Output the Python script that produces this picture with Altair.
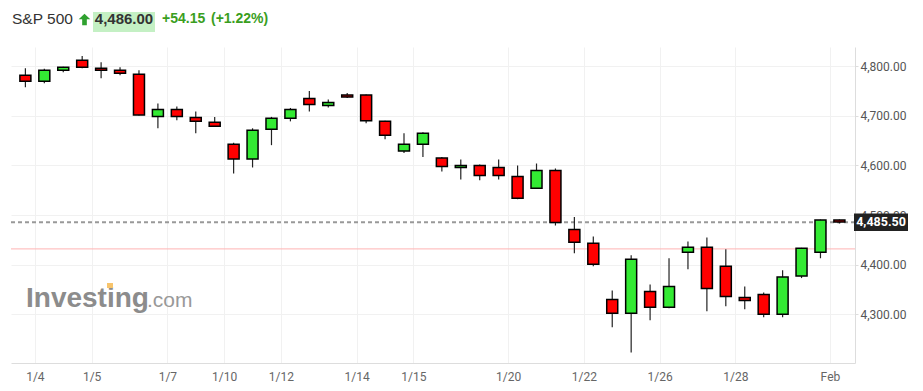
import altair as alt
import pandas as pd

# ---- data ----
opens  = [4782, 4770, 4792, 4812, 4796, 4792, 4784, 4699, 4713, 4697, 4687, 4643, 4613, 4673, 4695,
          4735, 4721, 4742, 4742, 4689, 4629, 4643, 4615, 4596, 4600, 4596, 4578, 4554, 4590, 4471,
          4443, 4330, 4302, 4346, 4314, 4425, 4435, 4397, 4334, 4340, 4300, 4377, 4425, 4490]
highs  = [4796, 4795, 4799, 4821, 4808, 4798, 4792, 4725, 4719, 4709, 4698, 4646, 4675, 4698, 4716,
          4750, 4733, 4746, 4743, 4690, 4665, 4667, 4617, 4612, 4602, 4612, 4600, 4604, 4594, 4496,
          4457, 4348, 4419, 4360, 4413, 4447, 4455, 4431, 4356, 4344, 4389, 4434, 4491, 4491]
lows   = [4758, 4766, 4788, 4796, 4776, 4782, 4701, 4675, 4691, 4665, 4678, 4584, 4596, 4641, 4689,
          4709, 4717, 4736, 4685, 4653, 4625, 4617, 4588, 4572, 4570, 4572, 4532, 4553, 4479, 4423,
          4397, 4274, 4223, 4288, 4312, 4391, 4306, 4316, 4310, 4294, 4294, 4373, 4413, 4483]
closes = [4770, 4792, 4798, 4798, 4792, 4786, 4702, 4713, 4699, 4689, 4679, 4613, 4671, 4695, 4713,
          4723, 4727, 4738, 4690, 4661, 4643, 4665, 4598, 4600, 4580, 4580, 4534, 4590, 4485, 4445,
          4401, 4302, 4411, 4314, 4356, 4435, 4352, 4336, 4328, 4300, 4375, 4433, 4490, 4486]

tick_positions = [1.5, 4.5, 8.5, 11.5, 14.5, 18.5, 21.5, 26.5, 30.5, 34.5, 38.5, 43.5]
tick_labels = ["1/4", "1/5", "1/7", "1/10", "1/12", "1/14", "1/15", "1/20", "1/22", "1/26", "1/28", "Feb"]
y_ticks = [4300, 4400, 4500, 4600, 4700, 4800]

last_price = 4485.50
prev_close = 4431.85

title_name = "S&P 500"
title_price = "4,486.00"
title_change = "+54.15"
title_pct = "(+1.22%)"
last_label = "4,485.50"

# ---- build table ----
n = len(opens)
df = pd.DataFrame({
    "idx": list(range(1, n + 1)),
    "open": opens, "high": highs, "low": lows, "close": closes,
})
df["dir"] = ["up" if c >= o else "down" for o, c in zip(opens, closes)]

label_expr = ""
for p, l in zip(tick_positions, tick_labels):
    label_expr += f"datum.value == {p} ? '{l}' : "
label_expr += "''"

x_scale = alt.Scale(domain=[0.504, 44.56], zero=False, nice=False)
y_scale = alt.Scale(domain=[4201.8, 4838.9], zero=False, nice=False)

W, H = 844, 316

base = alt.Chart(df)

wicks = base.mark_rule(color="#222222", strokeWidth=1.2).encode(
    x=alt.X("idx:Q", scale=x_scale,
            axis=alt.Axis(values=tick_positions, labelExpr=label_expr, title=None,
                          grid=True, gridColor="#f1f1f1", tickSize=0, labelPadding=8,
                          domainColor="#dddddd", labelColor="#666666", labelFont="Roboto",
                          labelFontSize=12)),
    y=alt.Y("low:Q", scale=y_scale,
            axis=alt.Axis(orient="right", values=y_ticks, format=",.2f", title=None,
                          grid=True, gridColor="#f1f1f1", tickSize=3, tickColor="#dddddd",
                          labelPadding=2, domainColor="#dddddd", labelColor="#555555",
                          labelFont="Roboto", labelFontSize=12)),
    y2="high:Q",
)

bodies = base.mark_bar(size=11, stroke="#000000", strokeWidth=1.5).encode(
    x=alt.X("idx:Q", scale=x_scale),
    y=alt.Y("open:Q", scale=y_scale),
    y2="close:Q",
    color=alt.Color("dir:N", scale=alt.Scale(domain=["up", "down"], range=["#33ea33", "#ff0000"]),
                    legend=None),
)

lines_df = pd.DataFrame({"v": [last_price]})
dashed = alt.Chart(lines_df).mark_rule(color="#999999", strokeWidth=2, strokeDash=[4, 3]).encode(
    y=alt.Y("v:Q", scale=y_scale)
)
pink_df = pd.DataFrame({"v": [prev_close]})
pink = alt.Chart(pink_df).mark_rule(color="#ffb3b3", strokeWidth=1).encode(
    y=alt.Y("v:Q", scale=y_scale)
)

box_df = pd.DataFrame({"v": [last_price], "t": [last_label]})
box = alt.Chart(box_df).mark_rect(color="#222222", yOffset=-8.7, y2Offset=8.7).encode(
    x=alt.value(843), x2=alt.value(897),
    y=alt.Y("v:Q", scale=y_scale), y2="v:Q",
)
box_text = alt.Chart(box_df).mark_text(color="#ffffff", font="Roboto", fontSize=12.5,
                                       fontWeight="bold", align="center", baseline="middle").encode(
    x=alt.value(870), y=alt.Y("v:Q", scale=y_scale), text="t:N"
)

# ---- header ----
hdr = pd.DataFrame({"t": [title_name]})
name_txt = alt.Chart(hdr).mark_text(font="Liberation Sans", fontSize=15.5, color="#333333",
                                    align="left", baseline="middle").encode(
    x=alt.value(1), y=alt.value(-28), text="t:N")

arrow = alt.Chart(hdr).mark_point(
    shape="M0,-1 L1,-0.05 L0.4,-0.05 L0.4,1 L-0.4,1 L-0.4,-0.05 L-1,-0.05 Z",
    size=135, filled=True, color="#2fa12f", opacity=1).encode(
    x=alt.value(73.5), y=alt.value(-27.5))

price_bg = alt.Chart(hdr).mark_rect(color="#c4f0c4").encode(
    x=alt.value(82), x2=alt.value(144), y=alt.value(-35), y2=alt.value(-15))
price_df = pd.DataFrame({"t": [title_price]})
price_txt = alt.Chart(price_df).mark_text(font="Liberation Sans", fontSize=15, fontWeight="bold",
                                          color="#333333", align="center", baseline="middle").encode(
    x=alt.value(113), y=alt.value(-28), text="t:N")
chg_df = pd.DataFrame({"t": [title_change]})
chg_txt = alt.Chart(chg_df).mark_text(font="Liberation Sans", fontSize=14, fontWeight="bold",
                                      color="#3a9e1e", align="left", baseline="middle").encode(
    x=alt.value(151), y=alt.value(-28), text="t:N")
pct_df = pd.DataFrame({"t": [title_pct]})
pct_txt = alt.Chart(pct_df).mark_text(font="Liberation Sans", fontSize=14, fontWeight="bold",
                                      color="#3a9e1e", align="left", baseline="middle").encode(
    x=alt.value(200), y=alt.value(-28), text="t:N")

# ---- watermark ----
wm1 = pd.DataFrame({"t": ["Investing"]})
wm_a = alt.Chart(wm1).mark_text(font="Liberation Sans", fontSize=28, fontWeight="bold",
                                color="#8c8c8c", align="left", baseline="alphabetic").encode(
    x=alt.value(15), y=alt.value(259.5), text="t:N")
wm2 = pd.DataFrame({"t": [".com"]})
wm_b = alt.Chart(wm2).mark_text(font="Liberation Sans", fontSize=21, color="#999999",
                                align="left", baseline="alphabetic").encode(
    x=alt.value(136), y=alt.value(259.5), text="t:N")
wm_dot = alt.Chart(wm1).mark_rect(color="#f7c46c").encode(
    x=alt.value(96), x2=alt.value(102), y=alt.value(236), y2=alt.value(241))

chart = alt.layer(
    wm_a, wm_b, wm_dot, pink, dashed, wicks, bodies, box, box_text,
    name_txt, arrow, price_bg, price_txt, chg_txt, pct_txt,
).properties(
    width=W, height=H,
    autosize=alt.AutoSizeParams(type="none"),
    padding={"left": 3, "top": 39, "right": 60, "bottom": 25},
    background="#ffffff",
).configure_view(stroke=None)

chart.save("out.html", embed_options={"renderer": "svg", "actions": False})
